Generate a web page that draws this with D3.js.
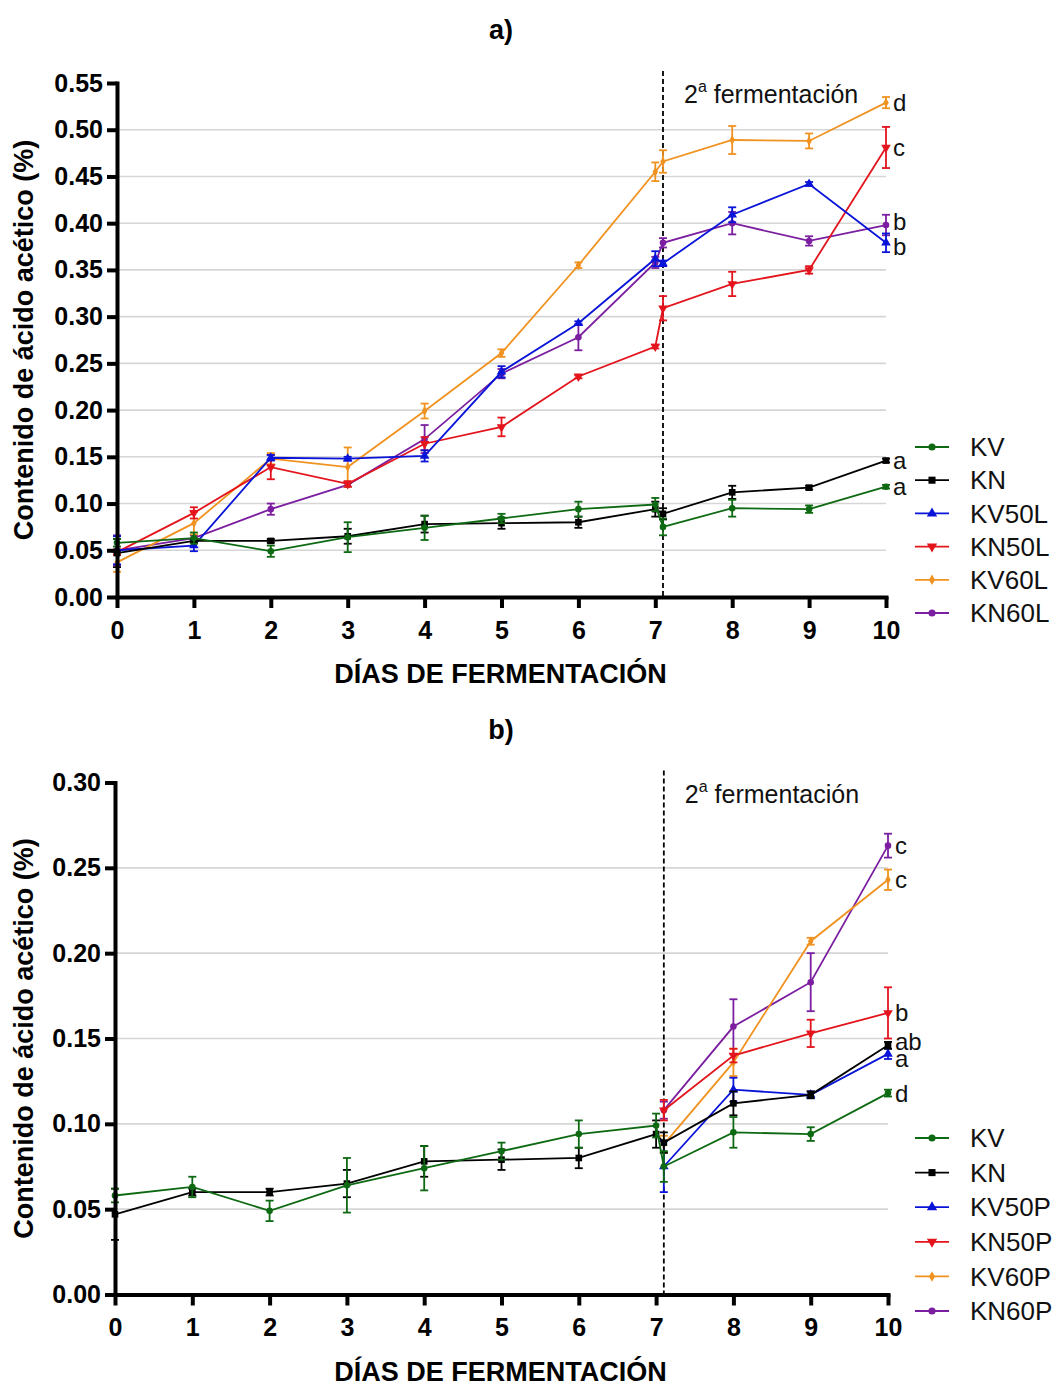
<!DOCTYPE html>
<html>
<head>
<meta charset="utf-8">
<script src="https://cdn.jsdelivr.net/npm/d3@7"></script>
<style>
	body { margin: 0; background: #fff; }
	svg { display: block; font-family: "Liberation Sans", Arial, sans-serif; }
</style>
</head>
<body>
<svg id="chart" width="1060" height="1385"></svg>
<script>
'use strict';

// fermentation days (7.1 = start of the 2nd fermentation)
const days = [0, 1, 2, 3, 4, 5, 6, 7, 7.1, 8, 9, 10];
const xTicks = [0, 1, 2, 3, 4, 5, 6, 7, 8, 9, 10];
const yTicksA = [0, 0.05, 0.10, 0.15, 0.20, 0.25, 0.30, 0.35, 0.40, 0.45, 0.50, 0.55];
const yTicksB = [0, 0.05, 0.10, 0.15, 0.20, 0.25, 0.30];

// shared controls
const kv    = [0.058, 0.063, 0.049, 0.064, 0.074, 0.084, 0.094, 0.099, 0.075, 0.095, 0.094, 0.118];
const kvErr = [0.004, 0.006, 0.006, 0.016, 0.013, 0.005, 0.008, 0.007, 0.009, 0.009, 0.004, 0.002];
const kn    = [0.047, 0.060, 0.060, 0.065, 0.078, 0.079, 0.080, 0.094, 0.089, 0.112, 0.117, 0.146];
const knErr = [0.015, 0.002, 0.002, 0.008, 0.009, 0.006, 0.006, 0.008, 0.006, 0.007, 0.002, 0.002];

// panel a
const kv50l    = [0.050, 0.055, 0.149, 0.148, 0.151, 0.241, 0.293, 0.362, 0.357, 0.409, 0.442, 0.379];
const kv50lErr = [0.015, 0.006, 0.003, 0.002, 0.006, 0.006, 0.002, 0.008, 0.003, 0.008, 0.002, 0.010];
const kn50l    = [0.048, 0.090, 0.139, 0.121, 0.164, 0.182, 0.236, 0.268, 0.309, 0.335, 0.350, 0.481];
const kn50lErr = [0.003, 0.006, 0.013, 0.003, 0.007, 0.010, 0.002, 0.002, 0.013, 0.013, 0.004, 0.022];
const kv60l    = [0.037, 0.079, 0.148, 0.139, 0.199, 0.261, 0.355, 0.455, 0.466, 0.489, 0.488, 0.529];
const kv60lErr = [0.010, 0.012, 0.006, 0.021, 0.008, 0.004, 0.003, 0.010, 0.012, 0.015, 0.008, 0.006];
const kn60l    = [0.050, 0.063, 0.094, 0.120, 0.169, 0.239, 0.278, 0.358, 0.379, 0.400, 0.381, 0.398];
const kn60lErr = [0.016, 0.003, 0.006, 0.002, 0.015, 0.005, 0.014, 0.006, 0.005, 0.012, 0.005, 0.011];

// panel b (treatments only measured in 2nd fermentation)
const kv50p    = [null, null, null, null, null, null, null, null, 0.075, 0.120, 0.117, 0.141];
const kv50pErr = [null, null, null, null, null, null, null, null, 0.015, 0.007, 0.002, 0.003];
const kn50p    = [null, null, null, null, null, null, null, null, 0.108, 0.140, 0.153, 0.165];
const kn50pErr = [null, null, null, null, null, null, null, null, 0.006, 0.004, 0.008, 0.015];
const kv60p    = [null, null, null, null, null, null, null, null, 0.088, 0.136, 0.207, 0.243];
const kv60pErr = [null, null, null, null, null, null, null, null, 0.005, 0.008, 0.002, 0.006];
const kn60p    = [null, null, null, null, null, null, null, null, 0.108, 0.157, 0.183, 0.263];
const kn60pErr = [null, null, null, null, null, null, null, null, 0.005, 0.016, 0.017, 0.007];

const namesA = ['KV', 'KN', 'KV50L', 'KN50L', 'KV60L', 'KN60L'];
const namesB = ['KV', 'KN', 'KV50P', 'KN50P', 'KV60P', 'KN60P'];
const lettersA = ['a', 'a', 'b', 'c', 'd', 'b'];
const lettersB = ['d', 'ab', 'a', 'b', 'c', 'c'];

// styles per series position
const colors = ['#0e6a12', '#000000', '#0a14d8', '#e3141c', '#f0921f', '#7b1fa0'];
const symbols = [d3.symbolCircle, d3.symbolSquare, d3.symbolTriangle, d3.symbolTriangle, d3.symbolDiamond, d3.symbolCircle];
const symbolSizes = [34, 44, 40, 40, 26, 34];
const symbolRotate = [0, 0, 0, 180, 0, 0];

const svg = d3.select('#chart');

const drawPanel = function(cfg) {
	const x = d3.scaleLinear().domain([0, 10]).range([cfg.left, cfg.right]);
	const y = d3.scaleLinear().domain([0, cfg.yMax]).range([cfg.bottom, cfg.top]);
	const g = svg.append('g');

	// gridlines
	g.append('g').selectAll('line')
		.data(cfg.yTicks.filter(function(t) { return t > 0 && t < cfg.yMax - 1e-9; }))
		.enter().append('line')
		.attr('x1', x(0)).attr('x2', x(10))
		.attr('y1', function(d) { return y(d); })
		.attr('y2', function(d) { return y(d); })
		.attr('stroke', '#d6d6d6').attr('stroke-width', 1.6);

	// 2nd fermentation marker
	g.append('line')
		.attr('x1', x(7.1)).attr('x2', x(7.1))
		.attr('y1', cfg.top - 12).attr('y2', cfg.bottom)
		.attr('stroke', '#000').attr('stroke-width', 1.8)
		.attr('stroke-dasharray', '5,3');

	const note = g.append('text')
		.attr('x', x(7.1) + 21).attr('y', cfg.top + 20)
		.attr('font-size', 25).attr('fill', '#111');
	note.append('tspan').text('2');
	note.append('tspan').attr('font-size', 16).attr('dy', -11).text('a');
	note.append('tspan').attr('dy', 11).text(' fermentación');

	// series (drawn back to front)
	const line = d3.line()
		.defined(function(d) { return d.v !== null; })
		.x(function(d) { return x(d.day); })
		.y(function(d) { return y(d.v); });

	for (let i = cfg.series.length - 1; i >= 0; i--) {
		const s = cfg.series[i];
		const pts = days.map(function(day, k) {
			return { day: day, v: s.values[k], e: s.errors[k] };
		});
		const valid = pts.filter(function(d) { return d.v !== null; });
		const sg = g.append('g');

		sg.append('path').datum(pts)
			.attr('d', line)
			.attr('fill', 'none')
			.attr('stroke', colors[i]).attr('stroke-width', 1.8);

		const eb = sg.selectAll('.eb').data(valid).enter().append('g')
			.attr('stroke', colors[i]).attr('stroke-width', 1.8);
		eb.append('line')
			.attr('x1', function(d) { return x(d.day); })
			.attr('x2', function(d) { return x(d.day); })
			.attr('y1', function(d) { return y(d.v - d.e); })
			.attr('y2', function(d) { return y(d.v + d.e); });
		[-1, 1].forEach(function(sign) {
			eb.append('line')
				.attr('x1', function(d) { return x(d.day) - 4; })
				.attr('x2', function(d) { return x(d.day) + 4; })
				.attr('y1', function(d) { return y(d.v + sign * d.e); })
				.attr('y2', function(d) { return y(d.v + sign * d.e); });
		});

		sg.selectAll('.pt').data(valid).enter().append('path')
			.attr('d', d3.symbol().type(symbols[i]).size(symbolSizes[i]))
			.attr('transform', function(d) {
				return 'translate(' + x(d.day) + ',' + y(d.v) + ') rotate(' + symbolRotate[i] + ')';
			})
			.attr('fill', colors[i]);

		// significance letter at the end of each series
		g.append('text')
			.attr('x', x(10) + 7)
			.attr('y', y(s.values[s.values.length - 1]) + s.letterShift)
			.attr('dy', '0.35em')
			.attr('font-size', 24).attr('fill', '#111')
			.text(s.letter);
	}

	// axes
	const yAxis = d3.axisLeft(y).tickValues(cfg.yTicks)
		.tickFormat(d3.format('.2f')).tickSize(10).tickSizeOuter(0).tickPadding(4);
	const xAxis = d3.axisBottom(x).tickValues(xTicks)
		.tickFormat(d3.format('d')).tickSize(11).tickSizeOuter(0).tickPadding(13);

	const ya = g.append('g').attr('transform', 'translate(' + cfg.left + ',0)').call(yAxis);
	const xa = g.append('g').attr('transform', 'translate(0,' + cfg.bottom + ')').call(xAxis);
	[ya, xa].forEach(function(a) {
		a.select('.domain').attr('stroke', '#000').attr('stroke-width', 4).attr('stroke-linecap', 'square');
		a.selectAll('.tick line').attr('stroke', '#000').attr('stroke-width', 4);
		a.selectAll('.tick text')
			.attr('font-family', '"Liberation Sans", Arial, sans-serif')
			.attr('font-size', 25).attr('font-weight', 'bold').attr('fill', '#000');
	});

	// titles
	g.append('text')
		.attr('x', 501).attr('y', cfg.top - 44)
		.attr('text-anchor', 'middle')
		.attr('font-size', 27).attr('font-weight', 'bold')
		.text(cfg.title);

	g.append('text')
		.attr('x', (cfg.left + cfg.right) / 2 - 1).attr('y', cfg.bottom + 86)
		.attr('text-anchor', 'middle')
		.attr('font-size', 27).attr('font-weight', 'bold')
		.text('DÍAS DE FERMENTACIÓN');

	g.append('text')
		.attr('transform', 'translate(24,' + (cfg.top + cfg.bottom) / 2 + ') rotate(-90)')
		.attr('text-anchor', 'middle').attr('dy', '0.35em')
		.attr('font-size', 27).attr('font-weight', 'bold')
		.text('Contenido de ácido acético (%)');

	// legend
	const lg = g.append('g').selectAll('g')
		.data(cfg.series).enter().append('g')
		.attr('transform', function(d, i) { return 'translate(915,' + (cfg.legendTop + i * cfg.legendStep) + ')'; });
	lg.append('line')
		.attr('x1', 0).attr('x2', 34)
		.attr('stroke', function(d, i) { return colors[i]; }).attr('stroke-width', 1.8);
	lg.append('path')
		.attr('d', function(d, i) { return d3.symbol().type(symbols[i]).size(symbolSizes[i] + 6)(); })
		.attr('transform', function(d, i) { return 'translate(17,0) rotate(' + symbolRotate[i] + ')'; })
		.attr('fill', function(d, i) { return colors[i]; });
	lg.append('text')
		.attr('x', 55).attr('dy', '0.35em')
		.attr('font-size', 26).attr('fill', '#111')
		.text(function(d) { return d.name; });
};

const valuesA = [kv, kn, kv50l, kn50l, kv60l, kn60l];
const errorsA = [kvErr, knErr, kv50lErr, kn50lErr, kv60lErr, kn60lErr];
const shiftsA = [0, 0, 4, 0, 0, -3];
const valuesB = [kv, kn, kv50p, kn50p, kv60p, kn60p];
const errorsB = [kvErr, knErr, kv50pErr, kn50pErr, kv60pErr, kn60pErr];
const shiftsB = [0, -4, 5, 0, 0, 0];

drawPanel({
	title: 'a)', yMax: 0.55, yTicks: yTicksA,
	left: 117, right: 886, top: 83, bottom: 597,
	legendTop: 447, legendStep: 33.2,
	series: namesA.map(function(n, i) {
		return { name: n, values: valuesA[i], errors: errorsA[i], letter: lettersA[i], letterShift: shiftsA[i] };
	})
});

drawPanel({
	title: 'b)', yMax: 0.30, yTicks: yTicksB,
	left: 115, right: 888, top: 782.5, bottom: 1294.5,
	legendTop: 1138, legendStep: 34.6,
	series: namesB.map(function(n, i) {
		return { name: n, values: valuesB[i], errors: errorsB[i], letter: lettersB[i], letterShift: shiftsB[i] };
	})
});
</script>
</body>
</html>
